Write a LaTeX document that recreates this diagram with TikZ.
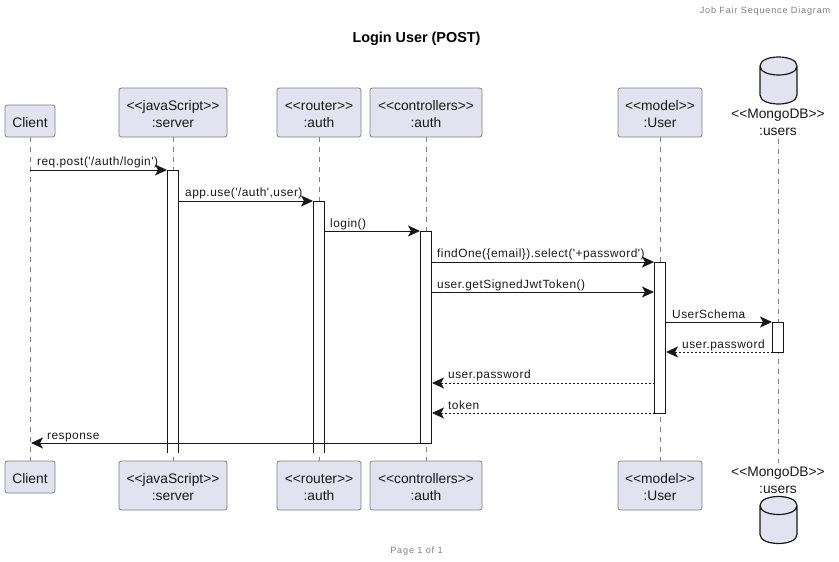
\documentclass[tikz,border=0pt]{standalone}
\usepackage{fontspec}
\setmainfont{Liberation Sans}[Ligatures=TeXOff]
\usetikzlibrary{arrows.meta,shapes.geometric}
\definecolor{partfill}{HTML}{E2E2F0}
\definecolor{partline}{HTML}{7F7F7F}
\definecolor{lifegray}{HTML}{808080}
\definecolor{inkdark}{HTML}{181818}
\tikzset{
  part/.style={draw=partline,fill=partfill,rounded corners=2.5pt,line width=.8pt,
    inner sep=0pt,minimum height=#1},
  part/.default=49,
  partname/.style={align=center,inner sep=0pt,rounded corners=0pt,yshift=-1.8pt,font=\fontsize{13.8}{17}\selectfont,text=inkdark},
  life/.style={draw=lifegray,dash pattern=on 5pt off 5pt,line width=.6pt},
  bar/.style={draw=inkdark,fill=white,line width=.9pt,inner sep=0pt,minimum width=10.5,anchor=north},
  msg/.style={draw=inkdark,line width=.9pt,-{Stealth[inset=3pt,length=12pt,width=11pt]}},
  back/.style={msg,dash pattern=on 2pt off 2pt},
  txt/.style={font=\fontsize{11.9}{14}\selectfont\addfontfeature{LetterSpace=4},text=inkdark,inner sep=0pt,anchor=base west},
  can/.style={draw=inkdark,fill=partfill,line width=1.2pt},
  dbname/.style={align=center,inner sep=0pt,font=\fontsize{13.8}{17}\selectfont,text=inkdark}
}
\begin{document}
\begin{tikzpicture}[x=1pt,y=-1pt]
\useasboundingbox (0,0) rectangle (839,562);
% header, title, footer
\node[font=\fontsize{9.1}{10}\selectfont,text=gray,inner sep=0pt] (header) at (765,11) {\addfontfeature{LetterSpace=9}Job Fair Sequence Diagram};
\node[font=\bfseries\fontsize{14.4}{16}\selectfont,inner sep=0pt] (title) at (416.5,39) {Login User (POST)};
\node[font=\fontsize{9.1}{10}\selectfont,text=gray,inner sep=0pt] (footer) at (416.5,551) {\addfontfeature{LetterSpace=9}Page 1 of 1};
% top and bottom boxes
\foreach \name/\x/\w/\txtlabel in {server/173/108/{<<javaScript>>\\:server}, router/319/84/{<<router>>\\:auth},
    ctrl/426/112/{<<controllers>>\\:auth}, model/660/84/{<<model>>\\:User}}
{
  \node[part,minimum width=\w,label={[partname]center:{\txtlabel}}] (\name-top) at (\x,112.5) {};
  \node[part,minimum width=\w,label={[partname]center:{\txtlabel}}] (\name-bot) at (\x,485.5) {};
}
\node[part=32,minimum width=50,label={[partname]center:Client}] (client-top) at (30,121) {};
\node[part=32,minimum width=50,label={[partname]center:Client}] (client-bot) at (30,477) {};
\coordinate (users-top) at (778,139);
\coordinate (users-bot) at (778,463);
% lifelines
\foreach \name in {client,server,router,ctrl,model,users}
\draw[life] (\name-top) -- (\name-bot);
% database
\node[dbname] (users-label-top) at (778,122) {<<MongoDB>>\\:users};
\node[dbname] (users-label-bot) at (778,480) {<<MongoDB>>\\:users};
\draw[can] (760,66) -- (760,95) .. controls (760,107) and (797,107) .. (797,95) -- (797,66)
  .. controls (797,54) and (760,54) .. (760,66) .. controls (760,78) and (797,78) .. (797,66);
\draw[can] (760,505.5) -- (760,534.5) .. controls (760,546.5) and (797,546.5) .. (797,534.5) -- (797,505.5)
  .. controls (797,493.5) and (760,493.5) .. (760,505.5) .. controls (760,517.5) and (797,517.5) .. (797,505.5);
% activation bars
\node[bar,minimum height=283] (server-bar) at (173,170) {};
\node[bar,minimum height=252] (router-bar) at (319,201) {};
\node[bar,minimum height=212] (ctrl-bar) at (426,231) {};
\node[bar,minimum height=151] (model-bar) at (660,262) {};
\node[bar,minimum height=30] (users-bar) at (778,322) {};
% white ends of the two open bars
\fill[white] (167,452.5) rectangle (179,454);
\fill[white] (313,452.5) rectangle (325,454);
% messages
\coordinate (c1) at (30,170);
\coordinate (s1) at (167,170);
\coordinate (s2) at (178.5,201);
\coordinate (r2) at (313,201);
\coordinate (r3) at (324.5,231);
\coordinate (k3) at (420,231);
\coordinate (k4) at (431.5,262);
\coordinate (m4) at (654,262);
\coordinate (k5) at (431.5,292);
\coordinate (m5) at (654,292);
\coordinate (m6) at (665.5,322);
\coordinate (u6) at (772,322);
\coordinate (u7) at (772.5,352);
\coordinate (m7) at (666,352);
\coordinate (m8) at (654.5,383);
\coordinate (k8) at (432,383);
\coordinate (m9) at (654.5,413);
\coordinate (k9) at (432,413);
\coordinate (k10) at (420.5,443);
\coordinate (c10) at (31,443);
\draw[msg] (c1) -- (s1);
\draw[msg] (s2) -- (r2);
\draw[msg] (r3) -- (k3);
\draw[msg] (k4) -- (m4);
\draw[msg] (k5) -- (m5);
\draw[msg] (m6) -- (u6);
\draw[back] (u7) -- (m7);
\draw[back] (m8) -- (k8);
\draw[back] (m9) -- (k9);
\draw[msg] (k10) -- (c10);
% message labels
\foreach \x/\y/\txtlabel in {37/165/{req.post('/auth/login')}, 185/196/{app.use('/auth',user)},
    330/227/{login()}, 437/257/{findOne(\{email\}).select('+password')}, 437/288/{user.getSignedJwtToken()},
    672/318/{UserSchema}, 682/348/{user.password}, 448/378/{user.password}, 448/409/{token}, 47/439/{response}}
\node[txt] at (\x,\y) {\txtlabel};
\end{tikzpicture}
\end{document}
